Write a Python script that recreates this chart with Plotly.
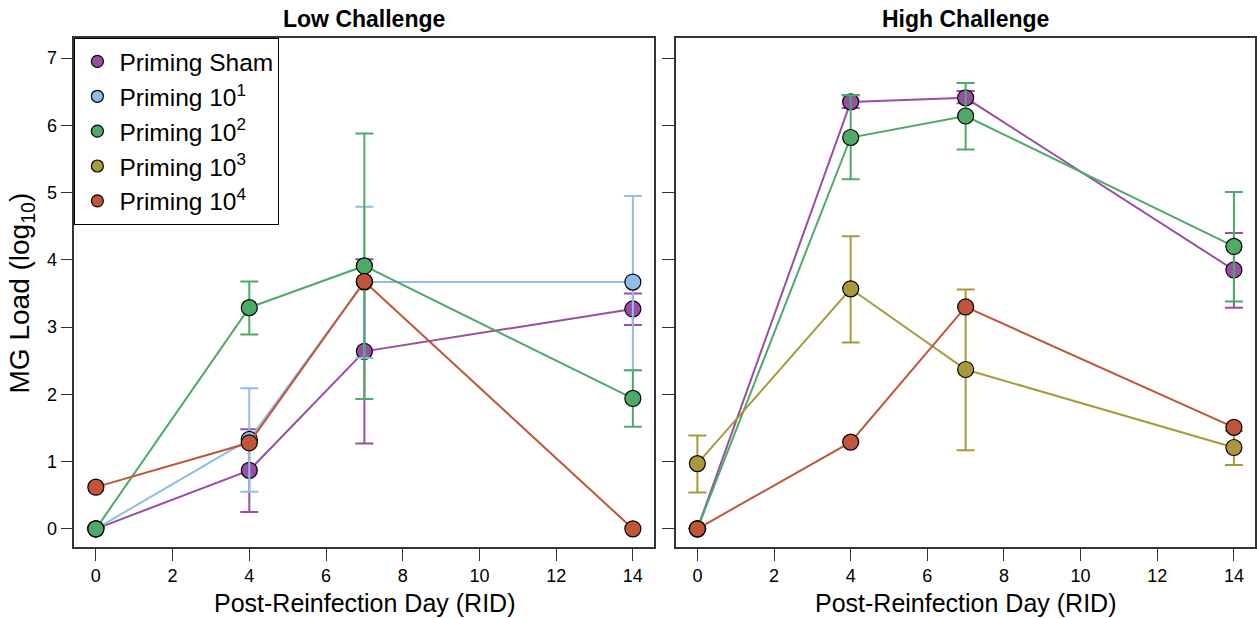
import plotly.graph_objects as go

days = [0, 4, 7, 14]
series_names = ["Priming Sham", "Priming 10<sup>1</sup>", "Priming 10<sup>2</sup>",
                "Priming 10<sup>3</sup>", "Priming 10<sup>4</sup>"]
colors = ["#984EA3", "#8DBFEA", "#4DAA67", "#A89A3A", "#C0553A"]

# Low challenge (mean, +err, -err)
low_sham = [0, 0.87, 2.64, 3.27]
low_sham_up = [None, 0.61, 1.37, 0.23]
low_sham_dn = [None, 0.62, 1.37, 0.24]
low_p1 = [0, 1.33, 3.67, 3.67]
low_p1_up = [None, 0.76, 1.12, 1.28]
low_p1_dn = [None, 0.78, 1.13, 1.31]
low_p2 = [0, 3.29, 3.91, 1.94]
low_p2_up = [None, 0.39, 1.97, 0.42]
low_p2_dn = [None, 0.40, 1.98, 0.42]
low_p4 = [0.62, 1.28, 3.68, 0]

# High challenge
high_sham = [0, 6.35, 6.41, 3.85]
high_sham_up = [None, 0.10, 0.10, 0.55]
high_sham_dn = [None, 0.09, 0.08, 0.56]
high_p2 = [0, 5.82, 6.14, 4.20]
high_p2_up = [None, 0.63, 0.49, 0.81]
high_p2_dn = [None, 0.62, 0.50, 0.82]
high_p3 = [0.97, 3.57, 2.37, 1.21]
high_p3_up = [0.42, 0.78, 1.19, 0.25]
high_p3_dn = [0.43, 0.80, 1.20, 0.26]
high_p4 = [0, 1.29, 3.30, 1.51]

x_ticks = [0, 2, 4, 6, 8, 10, 12, 14]
y_ticks = [0, 1, 2, 3, 4, 5, 6, 7]

FONT = "Liberation Sans, Arial, Helvetica, sans-serif"
W, H = 1257, 618

fig = go.Figure()


def add(xax, yax, y, color, up=None, dn=None):
    tr = dict(x=days, y=y, mode="lines+markers", xaxis=xax, yaxis=yax,
              line=dict(color=color, width=2),
              marker=dict(size=16, color=color, line=dict(color="black", width=1.2)),
              showlegend=False, hoverinfo="skip")
    if up is not None:
        tr["error_y"] = dict(type="data", symmetric=False, array=up, arrayminus=dn,
                             color=color, thickness=2, width=9)
    fig.add_trace(go.Scatter(**tr))


add("x", "y", low_sham, colors[0], low_sham_up, low_sham_dn)
add("x", "y", low_p1, colors[1], low_p1_up, low_p1_dn)
add("x", "y", low_p2, colors[2], low_p2_up, low_p2_dn)
add("x", "y", low_p4, colors[4])

add("x2", "y2", high_sham, colors[0], high_sham_up, high_sham_dn)
add("x2", "y2", high_p2, colors[2], high_p2_up, high_p2_dn)
add("x2", "y2", high_p3, colors[3], high_p3_up, high_p3_dn)
add("x2", "y2", high_p4, colors[4])

# legend entries (markers only)
for name, c in zip(series_names, colors):
    fig.add_trace(go.Scatter(x=[None], y=[None], mode="markers", name=name,
                             marker=dict(size=12, color=c, line=dict(color="black", width=1.2)),
                             xaxis="x", yaxis="y", showlegend=True))

ax_common = dict(showline=True, mirror=True, linecolor="#333333", linewidth=1.5,
                 ticks="outside", ticklen=12, tickwidth=1.2, tickcolor="#333333",
                 showgrid=False, zeroline=False,
                 tickfont=dict(family=FONT, size=18, color="black"))

xr = [-0.56, 14.55]
yr = [-0.27, 7.30]
d1 = [74.5 / W, 655 / W]
d2 = [677 / W, 1.0]
c1 = (d1[0] + d1[1]) / 2
c2 = (677 + 290) / W

fig.update_layout(
    width=W, height=H,
    margin=dict(l=0, r=0, t=38, b=71),
    paper_bgcolor="white", plot_bgcolor="white",
    font=dict(family=FONT, color="black"),
    xaxis=dict(domain=d1, range=xr, tickvals=x_ticks, anchor="y", **ax_common),
    yaxis=dict(domain=[0, 1], range=yr, tickvals=y_ticks, anchor="x", **ax_common),
    xaxis2=dict(domain=d2, range=xr, tickvals=x_ticks, anchor="y2", **ax_common),
    yaxis2=dict(domain=[0, 1], range=yr, tickvals=y_ticks, anchor="x2",
                showticklabels=False, **ax_common),
    legend=dict(x=d1[0], y=1, xanchor="left", yanchor="top",
                bgcolor="white", bordercolor="black", borderwidth=1,
                font=dict(family=FONT, size=24.5, color="black"),
                tracegroupgap=0, itemsizing="trace", itemwidth=34),
    showlegend=True,
)

ann = [
    dict(text="<b>Low Challenge</b>", x=c1, y=1, yshift=19, font=dict(size=23)),
    dict(text="<b>High Challenge</b>", x=c2, y=1, yshift=19, font=dict(size=23)),
    dict(text="Post-Reinfection Day (RID)", x=c1, y=0, yshift=-56, font=dict(size=25)),
    dict(text="Post-Reinfection Day (RID)", x=c2, y=0, yshift=-56, font=dict(size=25)),
    dict(text="MG Load (log<sub>10</sub>)", x=22 / W, y=0.5, textangle=-90,
         font=dict(size=28)),
]
for a in ann:
    fig.add_annotation(xref="paper", yref="paper", showarrow=False,
                       xanchor="center", yanchor="middle",
                       font_family=FONT, font_color="black", **a)

fig.write_html("out.html")
